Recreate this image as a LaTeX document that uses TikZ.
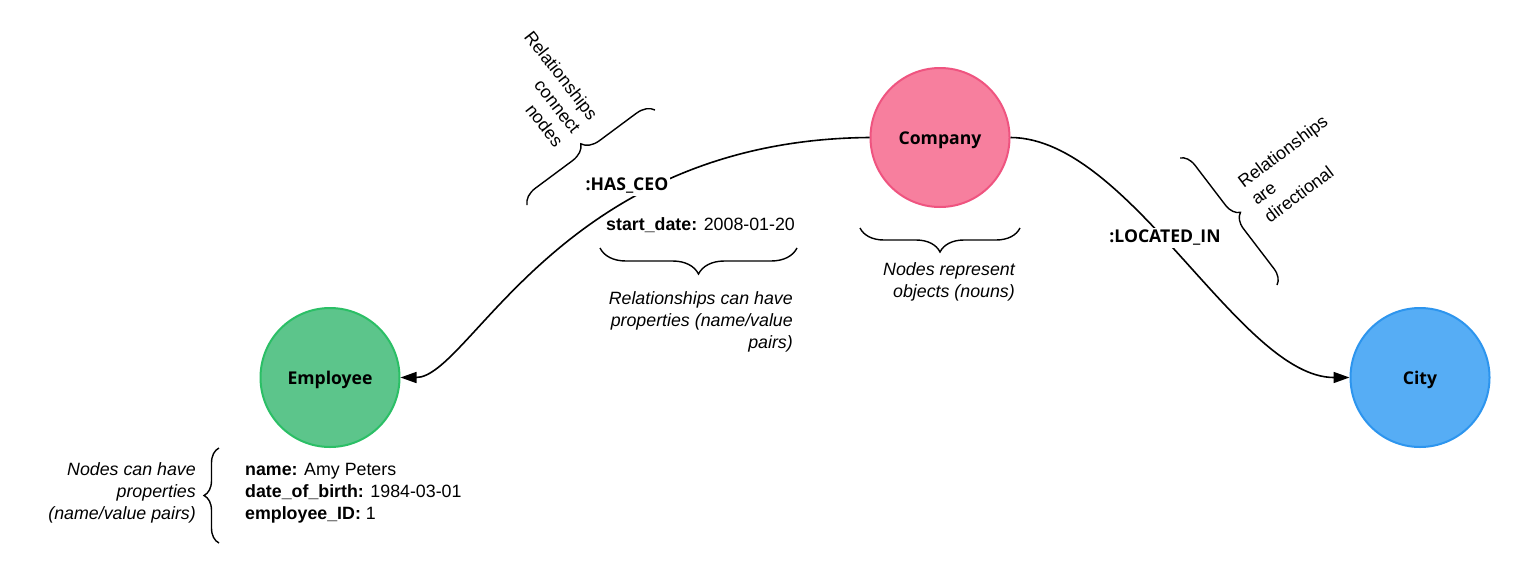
\documentclass[tikz,border=0pt]{standalone}
\usepackage{fontspec}
\setmainfont{Liberation Sans}
\newfontfamily\nodefont{Open Sans}
\usetikzlibrary{decorations.pathreplacing,arrows.meta}
\definecolor{empfill}{HTML}{5CC58B}
\definecolor{empdraw}{HTML}{2BBF66}
\definecolor{compfill}{HTML}{F77F9E}
\definecolor{compdraw}{HTML}{EF5480}
\definecolor{cityfill}{HTML}{56ADF5}
\definecolor{citydraw}{HTML}{2D95EE}
\newcommand\lowertext[1]{\raisebox{-2.5pt}[\height][\depth]{#1}}
\tikzset{
  gnode/.style={circle, minimum size=139pt, line width=2pt, inner sep=0pt, font=\nodefont\bfseries\fontsize{17.6}{20}\selectfont},
  rel/.style={line width=1.6pt, -{Triangle[length=16pt,width=11pt]}},
  rellabel/.style={fill=white, inner sep=2pt, font=\nodefont\bfseries\fontsize{17.6}{20}\selectfont},
  note/.style={font=\itshape\fontsize{17.8}{22}\selectfont, inner sep=0pt},
  plain/.style={font=\fontsize{17.8}{22}\selectfont, inner sep=0pt},
  brc/.style={decorate, decoration={brace, amplitude=#1}, line width=1.4pt}
}
\begin{document}
\begin{tikzpicture}[x=1pt,y=1pt]
\fill[white] (0,0) rectangle (1530,-584);
\useasboundingbox (0,0) rectangle (1530,-584);

\node[gnode, fill=empfill, draw=empdraw] (emp) at (330,-377.5) {\lowertext{Employee}};
\node[gnode, fill=compfill, draw=compdraw] (comp) at (940,-137.5) {\lowertext{Company}};
\node[gnode, fill=cityfill, draw=citydraw] (city) at (1420,-377.5) {\lowertext{City}};

\draw[rel] (comp.west) .. controls (560,-140) and (470,-377.5) .. (emp.east);
\draw[rel] (comp.east) .. controls (1130,-138) and (1240,-377.5) .. (city.west);

\node[rellabel] (hasceo) at (627,-186) {:HAS\_CEO};
\node[rellabel] (locin) at (1165,-238) {:LOCATED\_IN};

\node[plain, anchor=west] (sdate) at (606,-225) {\textbf{start\_date:} 2008-01-20};
\node[plain, anchor=west, align=left] (props) at (245,-493) {\textbf{name:} Amy Peters\\\textbf{date\_of\_birth:} 1984-03-01\\\textbf{employee\_ID:} 1};

\node[note, anchor=east, align=right] (n1) at (196,-493) {Nodes can have\\properties\\(name/value pairs)};
\node[note, anchor=east, align=right] (n2) at (793,-322) {Relationships can have\\properties (name/value\\pairs)};
\node[note, anchor=east, align=right] (n3) at (1015,-282) {Nodes represent\\objects (nouns)};

\node[plain, rotate=-52, align=right, anchor=east] (n4) at (577,-131) {Relationships\\connect\\nodes};
\node[plain, rotate=37, align=left, anchor=west] (n5) at (1253,-201) {Relationships\\are\\directional};

\draw[brc=17] (527,-205) -- (655,-110);
\draw[brc=15] (1180,-158) -- (1277,-285);
\draw[brc=26] (797,-248) -- (600,-248);
\draw[brc=24] (1020,-228) -- (860,-228);
\draw[brc=15] (219,-543) -- (219,-448);
\end{tikzpicture}
\end{document}
